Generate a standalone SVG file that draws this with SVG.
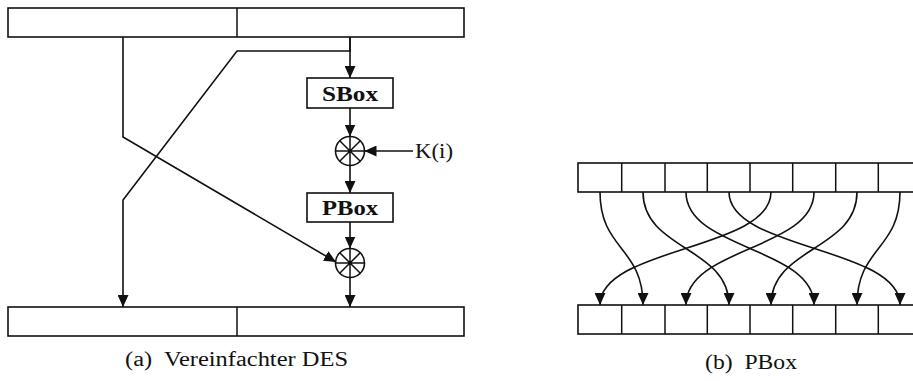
<svg xmlns="http://www.w3.org/2000/svg" width="913" height="381" viewBox="0 0 913 381">
<style>
.box{fill:#fff;stroke:#111;stroke-width:1.6}
.ln{fill:none;stroke:#111;stroke-width:1.5}
.con{fill:none;stroke:#111;stroke-width:1.6;marker-end:url(#ah)}
.lbl{font-family:"Liberation Serif","Times New Roman","DejaVu Serif",serif;fill:#111}
.bold{font-weight:bold}
</style>
<defs>
<marker id="ah" markerUnits="userSpaceOnUse" markerWidth="12" markerHeight="11" refX="12" refY="5.5" orient="auto" viewBox="0 0 12 11">
<path d="M0,0 L12,5.5 L0,11 z" fill="#111"/>
</marker>
</defs>
<rect width="913" height="381" fill="#fff"/>

<g id="top-register">
<rect class="box" x="8" y="8" width="456" height="29"/>
<line class="ln" x1="237" y1="8" x2="237" y2="37"/>
</g>
<g id="bottom-register">
<rect class="box" x="8" y="307" width="456" height="29"/>
<line class="ln" x1="237" y1="307" x2="237" y2="336"/>
</g>
<g id="sbox">
<rect class="box" x="307" y="78" width="86" height="30"/>
<text class="lbl bold" x="350" y="101" font-size="21" text-anchor="middle" textLength="56" lengthAdjust="spacingAndGlyphs">SBox</text>
</g>
<g id="xor1">
<circle class="box" cx="350" cy="151" r="14.5"/>
<path class="ln" d="M350,136.5V165.5M335.5,151H364.5M339.7,140.7L360.3,161.3M339.7,161.3L360.3,140.7" stroke-width="1.2"/>
</g>
<g id="key">
<text class="lbl" x="415" y="158" font-size="20" textLength="38" lengthAdjust="spacingAndGlyphs">K(i)</text>
</g>
<g id="pbox">
<rect class="box" x="307" y="193" width="86" height="29"/>
<text class="lbl bold" x="350" y="215" font-size="21" text-anchor="middle" textLength="56" lengthAdjust="spacingAndGlyphs">PBox</text>
</g>
<g id="xor2">
<circle class="box" cx="350" cy="263" r="14.5"/>
<path class="ln" d="M350,248.5V277.5M335.5,263H364.5M339.7,252.7L360.3,273.3M339.7,273.3L360.3,252.7" stroke-width="1.2"/>
</g>

<g id="pbox-input">
<rect class="box" x="578" y="163" width="343" height="29"/>
<path class="ln" d="M621.7,163V192M665,163V192M707.3,163V192M750,163V192M792.7,163V192M835.7,163V192M878.3,163V192"/>
</g>
<g id="pbox-output">
<rect class="box" x="578" y="305" width="343" height="29"/>
<path class="ln" d="M621.7,305V334M665,305V334M707.3,305V334M750,305V334M792.7,305V334M835.7,305V334M878.3,305V334"/>
</g>

<g id="connectors">
<path class="con" d="M123,37V137L336,262"/>
<path class="con" d="M350,37V51H237L123,200V307"/>
<path class="con" d="M350,37V78"/>
<path class="con" d="M350,108V136.5"/>
<path class="con" d="M413,151H364.5"/>
<path class="con" d="M350,165.5V193"/>
<path class="con" d="M350,222V248.5"/>
<path class="con" d="M350,277.5V307"/>

<path class="con" d="M600,192C600,250 643,247 643,305"/>
<path class="con" d="M643,192C643,250 729,247 729,305"/>
<path class="con" d="M686,192C686,250 814,247 814,305"/>
<path class="con" d="M729,192C729,250 900,247 900,305"/>
<path class="con" d="M771,192C771,250 600,247 600,305"/>
<path class="con" d="M814,192C814,250 686,247 686,305"/>
<path class="con" d="M857,192C857,250 771,247 771,305"/>
<path class="con" d="M900,192C900,250 857,247 857,305"/>
</g>

<text class="lbl" x="125" y="366" font-size="20" textLength="223" lengthAdjust="spacingAndGlyphs" xml:space="preserve">(a)  Vereinfachter DES</text>
<text class="lbl" x="705" y="369" font-size="20" textLength="92" lengthAdjust="spacingAndGlyphs" xml:space="preserve">(b)  PBox</text>
</svg>
